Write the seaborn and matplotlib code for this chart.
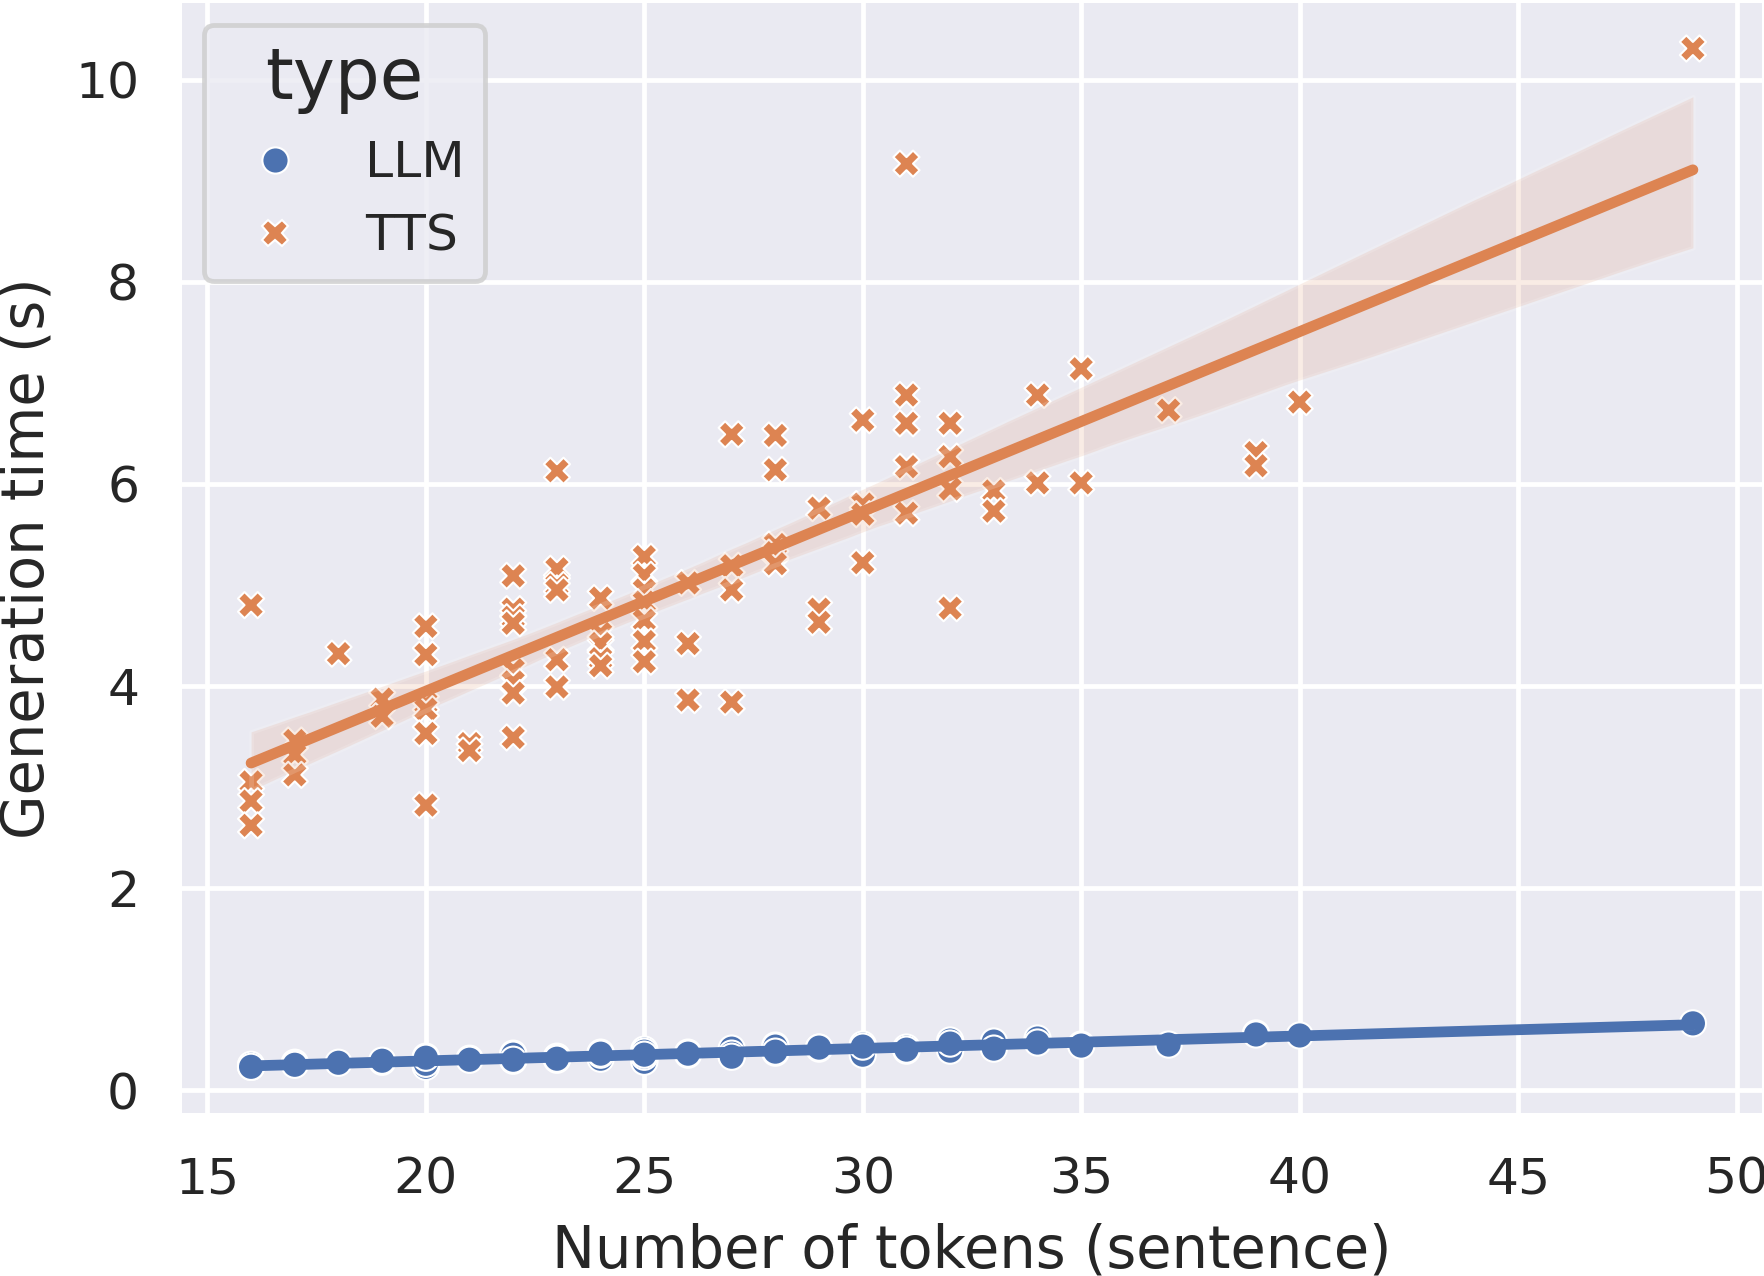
import seaborn as sns
import matplotlib.pyplot as plt
import pandas as pd

# Sentence length (tokens) and generation times
tokens = [16, 16, 16, 16,
          17, 17, 17,
          18,
          19, 19,
          20, 20, 20, 20, 20, 20,
          21, 21,
          22, 22, 22, 22, 22, 22, 22, 22,
          23, 23, 23, 23, 23, 23,
          24, 24, 24, 24, 24,
          25, 25, 25, 25, 25, 25, 25,
          26, 26, 26,
          27, 27, 27, 27,
          28, 28, 28, 28, 28,
          29, 29, 29,
          30, 30, 30, 30,
          31, 31, 31, 31, 31,
          32, 32, 32, 32,
          33, 33,
          34, 34,
          35, 35,
          37,
          39, 39,
          40,
          49]

tts_time = [4.80, 3.05, 2.86, 2.62,
            3.46, 3.32, 3.12,
            4.32,
            3.87, 3.70,
            4.59, 4.31, 3.83, 3.77, 3.53, 2.82,
            3.43, 3.36,
            5.09, 4.76, 4.68, 4.62, 4.16, 4.04, 3.93, 3.49,
            6.13, 5.16, 5.00, 4.95, 4.26, 3.99,
            4.87, 4.52, 4.42, 4.27, 4.20,
            5.28, 5.10, 4.95, 4.83, 4.65, 4.44, 4.24,
            5.02, 4.42, 3.86,
            6.49, 5.19, 4.95, 3.84,
            6.48, 6.14, 5.40, 5.32, 5.21,
            5.76, 4.76, 4.63,
            6.63, 5.80, 5.70, 5.22,
            9.17, 6.88, 6.60, 6.17, 5.71,
            6.60, 6.27, 5.95, 4.77,
            5.93, 5.73,
            6.88, 6.01,
            7.14, 6.01,
            6.73,
            6.31, 6.18,
            6.81,
            10.31]

llm_time = [0.23, 0.24, 0.25, 0.23,
            0.27, 0.26, 0.25,
            0.27,
            0.28, 0.29,
            0.33, 0.31, 0.24, 0.23, 0.26, 0.32,
            0.31, 0.30,
            0.36, 0.33, 0.30, 0.29, 0.34, 0.32, 0.35, 0.30,
            0.31, 0.32, 0.33, 0.30, 0.32, 0.31,
            0.37, 0.33, 0.31, 0.35, 0.36,
            0.40, 0.36, 0.30, 0.28, 0.33, 0.38, 0.35,
            0.37, 0.35, 0.36,
            0.41, 0.34, 0.36, 0.33,
            0.44, 0.37, 0.40, 0.43, 0.38,
            0.42, 0.41, 0.42,
            0.45, 0.38, 0.35, 0.43,
            0.40, 0.41, 0.39, 0.42, 0.40,
            0.49, 0.43, 0.39, 0.46,
            0.48, 0.41,
            0.51, 0.47,
            0.45, 0.44,
            0.45,
            0.56, 0.55,
            0.54,
            0.66]

types = ['LLM', 'TTS']

x_col = 'Number of tokens (sentence)'
y_col = 'Generation time (s)'
data = pd.DataFrame({
    x_col: tokens + tokens,
    y_col: llm_time + tts_time,
    'type': [types[0]] * len(tokens) + [types[1]] * len(tokens),
})

#Set Style
sns.set_theme(style="darkgrid")
plt.rcParams['xtick.labelsize'] = 10.5
plt.rcParams['ytick.labelsize'] = 10.5
plt.rcParams['xtick.major.pad'] = 2.3
plt.rcParams['ytick.major.pad'] = 2.3

dpi = 345
fig = plt.figure(figsize=(1765 / dpi, 1276 / dpi), dpi=dpi)
ax = fig.add_axes([179 / 1765, 160 / 1276, 1 - 179 / 1765, 1 - 160 / 1276])

#1. Scatter of every sentence
sns.scatterplot(data=data, x=x_col, y=y_col, hue='type', style='type',
                hue_order=types, style_order=types, s=30, ax=ax)

#2. Linear fit per type
palette = sns.color_palette()
for t, color in zip(types, palette):
    sns.regplot(data=data[data['type'] == t], x=x_col, y=y_col,
                scatter=False, color=color, seed=0, ax=ax)

ax.set_ylim(-0.257, 10.79)
sns.move_legend(ax, 'upper left', fontsize=10.5, title_fontsize=14.8)

fig.savefig('out.png', dpi=dpi)
